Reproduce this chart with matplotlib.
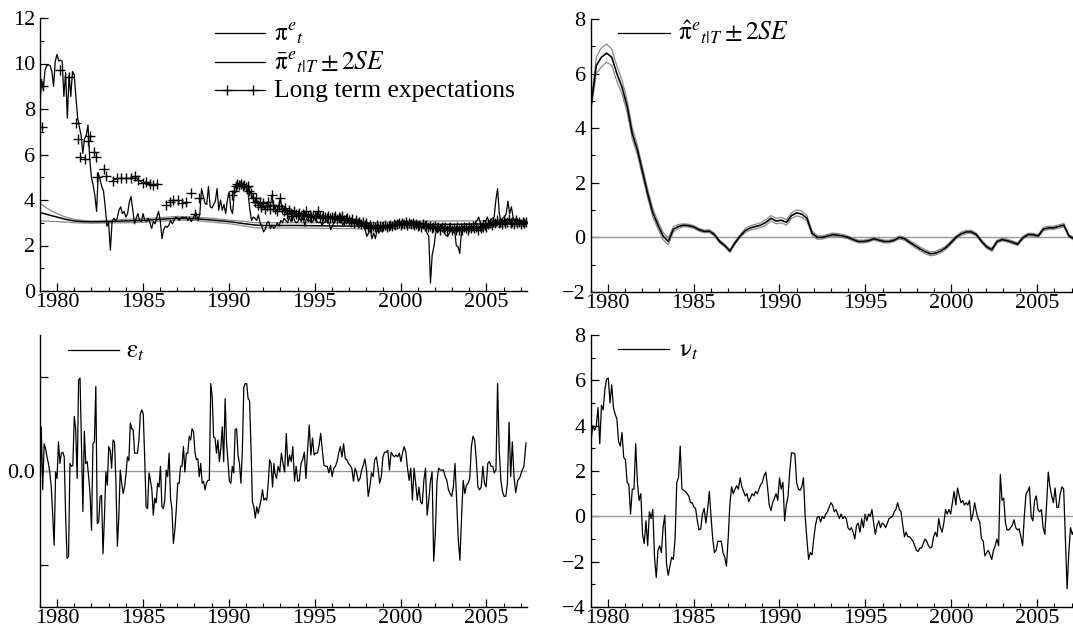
import numpy as np
import matplotlib
matplotlib.use("Agg")
import matplotlib.pyplot as plt
from matplotlib.lines import Line2D
from matplotlib.ticker import MultipleLocator, FixedLocator

plt.rcParams['font.family'] = ['Liberation Serif', 'DejaVu Serif']
plt.rcParams['mathtext.fontset'] = 'stix'

# ---- data ----
# top left: pi^e_t, roughly every 0.1 year from 1979.0 to 2007.35
pi_e = [8.0, 9.3, 8.85, 9.7, 9.9, 9.95, 9.9, 9.65, 9.0, 10.1,
        10.4, 10.1, 10.15, 10.1, 8.55, 9.6, 7.6, 9.5, 8.55, 9.65,
        9.5, 8.5, 7.6, 7.2, 6.85, 6.05, 6.7, 6.85, 7.3, 5.8,
        5.0, 4.65, 4.2, 3.5, 5.2, 4.9, 4.6, 4.4, 3.7, 2.85,
        3.0, 1.8, 3.05, 3.2, 3.1, 3.2, 3.55, 3.7, 3.4, 3.5,
        3.25, 3.4, 3.9, 4.15, 3.6, 2.95, 3.2, 3.4, 3.1, 3.05,
        3.4, 3.1, 3.05, 3.2, 3.0, 2.75, 3.05, 2.95, 3.25, 3.5,
        3.1, 2.3, 2.7, 2.85, 2.8, 2.9, 3.1, 2.95, 3.1, 3.25,
        3.2, 3.1, 3.2, 3.25, 3.2, 3.25, 3.1, 3.25, 3.05, 3.2,
        3.35, 3.4, 3.1, 3.4, 4.5, 4.15, 3.85, 3.8, 4.6, 3.7,
        3.65, 3.8, 3.95, 4.5, 3.55, 4.0, 3.55, 3.8, 3.4, 4.0,
        4.35, 3.6, 3.4, 4.3, 4.35, 4.65, 4.75, 4.8, 4.65, 4.6,
        4.6, 4.3, 3.6, 3.1, 3.25, 3.2, 3.1, 3.35, 3.0, 2.85,
        2.6, 2.7, 3.0, 3.05, 2.75, 2.9, 2.75, 2.85, 3.0, 2.85,
        3.1, 3.0, 3.2, 3.1, 3.0, 3.25, 3.05, 3.35, 3.1, 3.0,
        3.05, 3.2, 3.05, 3.25, 2.85, 3.2, 3.05, 3.1, 3.0, 3.1,
        3.25, 3.05, 3.0, 3.05, 2.9, 3.0, 3.05, 3.1, 3.0, 2.7,
        2.85, 3.05, 3.1, 3.2, 3.05, 3.1, 2.9, 3.05, 3.0, 3.05,
        3.1, 3.0, 3.1, 3.0, 3.05, 3.1, 3.05, 3.0, 2.85, 2.7,
        2.4, 2.55, 2.7, 2.3, 2.55, 2.3, 2.7, 2.55, 2.7, 2.6,
        2.85, 2.7, 2.85, 2.9, 2.85, 3.0, 2.85, 3.0, 3.1, 3.0,
        3.05, 3.1, 3.0, 3.05, 3.0, 3.05, 3.1, 2.9, 3.0, 3.05,
        3.0, 3.05, 2.85, 3.05, 2.7, 2.55, 2.4, 0.35, 1.6, 1.95,
        2.55, 2.75, 2.7, 2.9, 2.85, 2.55, 2.45, 2.4, 2.55, 2.7,
        2.55, 2.7, 2.0, 1.95, 1.65, 2.6, 2.85, 2.7, 2.75, 2.7,
        2.85, 2.75, 2.85, 3.0, 3.1, 3.25, 3.0, 2.85, 3.1, 3.05,
        3.25, 3.05, 3.1, 3.2, 3.25, 4.0, 4.5, 3.4, 3.05, 3.2,
        3.25, 3.4, 3.95, 3.4, 3.7, 3.25, 3.1, 3.2, 3.1, 3.05,
        3.1, 3.0, 3.05, 3.1]
pi_e_start, pi_e_end = 1979.0, 2007.35

# top left: smoothed pi-bar and its +-2SE band
pibar_years = [1979.0, 1979.5, 1980.0, 1980.5, 1981.0, 1981.5, 1982.0, 1983.0,
               1984.0, 1985.0, 1986.0, 1987.0, 1988.0, 1989.0, 1990.0, 1991.0,
               1991.5, 1992.0, 1993.0, 1994.0, 1995.0, 1996.0, 1997.0, 1998.0,
               1999.0, 2000.0, 2001.0, 2002.0, 2003.0, 2004.0, 2005.0, 2006.0, 2007.35]
pibar_mid = [3.45, 3.35, 3.25, 3.15, 3.08, 3.05, 3.04, 3.05, 3.08, 3.1, 3.15,
             3.2, 3.18, 3.12, 3.05, 2.95, 2.9, 2.88, 2.88, 2.88, 2.87, 2.86,
             2.85, 2.85, 2.87, 2.9, 2.92, 2.93, 2.93, 2.94, 2.95, 2.96, 2.97]
pibar_hi = [3.85, 3.6, 3.4, 3.25, 3.15, 3.1, 3.08, 3.1, 3.15, 3.18, 3.22,
            3.28, 3.25, 3.2, 3.12, 3.05, 3.0, 3.0, 3.0, 3.0, 3.0, 3.0,
            3.0, 3.0, 3.02, 3.05, 3.07, 3.08, 3.08, 3.08, 3.08, 3.09, 3.1]
pibar_lo = [3.08, 3.07, 3.05, 3.03, 3.0, 2.99, 2.98, 2.99, 3.0, 3.02, 3.07,
            3.12, 3.1, 3.03, 2.96, 2.85, 2.78, 2.77, 2.77, 2.77, 2.76, 2.75,
            2.74, 2.73, 2.74, 2.76, 2.78, 2.8, 2.8, 2.81, 2.82, 2.83, 2.84]

# top left: long term expectations (survey)
lt_a_years = [1979.1, 1979.2, 1980.2, 1980.7, 1981.1, 1981.2, 1981.35, 1981.65,
              1981.8, 1981.9, 1982.15, 1982.3, 1982.35, 1982.75, 1982.85]
lt_a = [7.2, 9.0, 9.7, 9.4, 7.4, 6.7, 5.9, 5.8, 6.6, 6.8, 6.1, 5.9, 5.0, 5.35, 5.05]
lt_b_years = [1983.25, 1983.5, 1983.75, 1984.0, 1984.3, 1984.55, 1984.7,
              1985.0, 1985.2, 1985.4, 1985.6, 1985.8]
lt_b = [4.85, 4.95, 4.95, 4.95, 4.95, 5.05, 4.9, 4.75, 4.8, 4.7, 4.65, 4.7]
lt_c_years = [1986.35, 1986.55, 1986.75, 1987.05, 1987.25, 1987.5, 1987.8, 1988.05, 1988.25]
lt_c = [3.8, 3.9, 4.0, 4.0, 3.85, 3.9, 4.3, 3.4, 4.1]
# every 0.1 year from 1990.2 to 2007.3
lt_d = [4.2, 4.4, 4.6, 4.7, 4.65, 4.7, 4.6, 4.65,
        4.55, 4.6, 4.4, 4.3, 4.1, 3.9, 4.1, 3.8, 3.9, 3.7,
        3.85, 3.6, 3.75, 3.9, 3.6, 4.2, 3.8, 3.6, 3.5, 3.75,
        4.1, 3.6, 3.5, 3.65, 3.4, 3.55, 3.45, 3.3, 3.5, 3.4,
        3.35, 3.45, 3.3, 3.4, 3.35, 3.5, 3.3, 3.35, 3.25, 3.35,
        3.3, 3.25, 3.5, 3.3, 3.2, 3.3, 3.25, 3.2, 3.3, 3.2,
        3.25, 3.2, 3.3, 3.15, 3.25, 3.2, 3.3, 3.1, 3.15, 3.2,
        3.1, 3.05, 3.15, 3.0, 3.1, 3.0, 3.05, 2.95, 3.05, 2.9,
        3.0, 2.8, 2.9, 2.75, 2.85, 2.8, 2.9, 2.75, 2.85, 2.8,
        2.85, 2.9, 2.8, 2.85, 2.9, 2.85, 2.95, 2.9, 2.95, 3.0,
        2.9, 3.0, 2.95, 3.05, 2.9, 3.0, 2.95, 3.0, 2.9, 2.95,
        2.85, 2.9, 2.8, 2.95, 2.85, 2.9, 2.8, 2.85, 2.75, 2.8,
        2.85, 2.75, 2.8, 2.7, 2.8, 2.75, 2.8, 2.7, 2.75, 2.8,
        2.7, 2.75, 2.7, 2.8, 2.7, 2.75, 2.7, 2.8, 2.75, 2.7,
        2.8, 2.75, 2.85, 2.75, 2.8, 2.7, 2.85, 2.75, 2.8, 2.9,
        2.8, 2.95, 3.0, 2.9, 3.05, 3.0, 3.1, 3.0, 3.05, 2.95,
        3.1, 3.0, 3.05, 3.15, 3.0, 3.05, 2.95, 3.1, 3.0, 3.05,
        2.95, 3.05, 3.0, 3.05]
lt_d_start, lt_d_end = 1990.2, 2007.3

# top right: pi-hat smoothed, every 0.3 year from 1979.04
pihat = [4.85, 6.3, 6.6, 6.75, 6.6, 6.0, 5.5, 4.8, 3.8, 3.2,
         2.4, 1.6, 0.9, 0.45, 0.05, -0.15, 0.3, 0.4, 0.45, 0.43,
         0.38, 0.28, 0.22, 0.23, 0.1, -0.15, -0.3, -0.5, -0.2, 0.05,
         0.25, 0.35, 0.4, 0.45, 0.55, 0.7, 0.6, 0.63, 0.55, 0.8,
         0.9, 0.85, 0.7, 0.15, 0.0, 0.0, 0.05, 0.1, 0.08, 0.05,
         0.0, -0.08, -0.15, -0.15, -0.12, -0.05, -0.1, -0.15, -0.15, -0.1,
         0.0, -0.05, -0.18, -0.3, -0.42, -0.52, -0.6, -0.58, -0.5, -0.38,
         -0.2, 0.0, 0.13, 0.2, 0.2, 0.1, -0.15, -0.35, -0.45, -0.15,
         -0.08, -0.12, -0.18, -0.25, -0.02, 0.1, 0.1, 0.05, 0.3, 0.35,
         0.35, 0.4, 0.45, 0.05, -0.05]
pihat_2se = [0.12, 0.3, 0.35, 0.33, 0.3, 0.28, 0.25, 0.22, 0.2, 0.18,
             0.17, 0.16, 0.15, 0.14, 0.13, 0.12, 0.1, 0.07, 0.05, 0.05,
             0.05, 0.05, 0.05, 0.05, 0.05, 0.05, 0.05, 0.05, 0.05, 0.05,
             0.07, 0.08, 0.08, 0.09, 0.1, 0.1, 0.1, 0.1, 0.1, 0.1,
             0.11, 0.11, 0.1, 0.08, 0.07, 0.06, 0.06, 0.06, 0.06, 0.06,
             0.05, 0.05, 0.05, 0.05, 0.05, 0.05, 0.05, 0.05, 0.05, 0.05,
             0.05, 0.06, 0.06, 0.07, 0.07, 0.07, 0.07, 0.07, 0.07, 0.06,
             0.06, 0.06, 0.06, 0.06, 0.06, 0.05, 0.05, 0.06, 0.06, 0.05,
             0.05, 0.05, 0.05, 0.05, 0.05, 0.05, 0.05, 0.05, 0.06, 0.06,
             0.06, 0.06, 0.06, 0.05, 0.05]
pihat_start, pihat_end = 1979.04, 2007.15

# bottom left: eps_t in three stretches
eps_a = [-0.35, 0.47, -0.2, 0.29, 0.24, 0.15, 0.08, -0.02, -0.17, -0.49, -0.79,
         -0.01, -0.08, 0.31, 0.08, 0.19, 0.2, 0.15, -0.49, -0.93, -0.91,
         0.08, 0.05, 0.06, 0.58, 0.44, -0.08, 0.97, 0.99, 0.26, -0.43,
         0.42, 0.08, 0.1, -0.06, -0.24, -0.63, 0.29, 0.31, 0.9, -0.56,
         -0.54, -0.27, -0.26, -0.88, -0.49, -0.01, -0.15, 0.26, 0.22, 0.03,
         0.33, 0.31, -0.13, -0.8, -0.49, 0.01, -0.13, -0.24, -0.17, -0.03,
         0.15, 0.11, 0.51, 0.45, 0.44, 0.19, 0.19, 0.19, 0.33, 0.61,
         0.65, 0.61, 0.15, -0.38, -0.4, -0.02, -0.1, -0.2, -0.47, -0.29,
         -0.34, -0.13, -0.17, 0.05, -0.38, -0.4, -0.31, 0.01, -0.06, 0.19,
         -0.29, -0.41, -0.77, -0.63, -0.41, -0.13, -0.13, 0.05, 0.05, 0.26,
         -0.01, 0.19, 0.19, 0.37, 0.33, 0.45, 0.42, 0.2, 0.12, 0.13,
         -0.06, 0.08, -0.13, -0.11, -0.2, -0.13, -0.1, -0.1, 0.93, 0.79,
         0.36, 0.35, 0.19, 0.33, 0.1, 0.24, 0.47, 0.1, 0.77, 0.3,
         0.1, -0.11, -0.13, 0.05, -0.02, 0.44, 0.45, 0.17, 0.08, -0.13,
         0.22, 0.89, 0.93, 0.93, 0.77, 0.75, 0.26, -0.33, -0.38, -0.5,
         -0.38, -0.45, -0.38, -0.31, -0.2, -0.31, -0.29, -0.31, -0.13, 0.12,
         0.08, -0.17, 0.08]
eps_b = [-0.02, -0.08, 0.05, -0.01, 0.19, 0.08, -0.01, 0.4, 0.05, 0.17,
         0.1, 0.26, -0.11, 0.05, -0.11, -0.1, 0.08, 0.12, 0.2, -0.08,
         0.22, 0.49, 0.17, 0.35, 0.17, 0.19, 0.19, 0.27, 0.4, 0.22,
         0.06, 0.05, 0.05, -0.02, 0.06, -0.06, 0.03, 0.05, 0.1, 0.19,
         0.26, 0.15, 0.29, 0.13, 0.12, 0.08, 0.06, 0.03, -0.11, 0.03,
         -0.02, -0.11, -0.08, 0.01, 0.06, 0.13, 0.01, -0.27, -0.17, -0.02,
         -0.06, 0.12, 0.15, 0.03, -0.13, -0.06, 0.15, 0.2, 0.2, 0.22,
         0.01, 0.2, 0.17, 0.15, 0.17, 0.15, 0.19, 0.1, 0.2, 0.26,
         0.2, 0.03, -0.1, 0.03, -0.31, 0.03, -0.13, -0.31, -0.17, -0.33,
         -0.35, -0.1, 0.03, -0.47, -0.31, -0.11, -0.01, -0.96, -0.66, -0.11,
         0.03, 0.01, 0.01, 0.01, -0.06, -0.1, -0.2, -0.24, -0.27, -0.17,
         0.08, -0.31, -0.73, -0.95, -0.49, -0.1, -0.24, -0.15, -0.13, -0.08,
         0.26, 0.37, 0.33, 0.12, -0.17, -0.2, -0.17, 0.05, -0.13, -0.17,
         0.08, 0.1, 0.05, 0.05, -0.02, 0.01, 0.93, 0.22, -0.1, -0.22,
         -0.27, -0.27, -0.13, 0.52, -0.06, 0.31, -0.06]
eps_c = [-0.23, -0.1, -0.07, 0.0, 0.05, 0.3]
eps_spans = [(1979.0, 1992.63), (1992.68, 2006.6), (2006.7, 2007.3)]

# bottom right: nu_t, about every 0.1 year from 1979.04
nu = [3.4, 4.0, 3.8, 4.0, 4.8, 3.2, 4.9, 4.7, 5.6, 6.05,
      6.1, 5.0, 5.8, 4.8, 4.5, 4.3, 3.3, 3.1, 3.7, 2.6,
      2.5, 1.5, 1.4, 0.1, 1.2, 1.2, 3.2, 1.5, 0.7, 1.0,
      -0.8, -1.2, -0.2, -1.3, 0.2, -0.1, 0.3, -1.8, -2.7, -1.5,
      -1.3, -1.6, -0.5, 0.05, -2.1, -2.6, -2.2, -1.8, -1.9, -1.0,
      1.5, 1.7, 3.1, 1.2, 1.15, 1.1, 1.0, 0.9, 0.6, 0.6,
      0.4, 0.35, -0.2, -0.6, -0.55, 0.1, 0.35, -0.3, 0.3, 1.1,
      0.0, -1.0, -1.6, -1.5, -1.1, -1.1, -1.1, -1.6, -1.8, -2.2,
      -1.0, 0.5, 1.3, 1.0, 1.2, 1.35, 1.2, 1.7, 1.3, 1.1,
      0.9, 1.0, 0.65, 0.8, 1.0, 0.9, 1.1, 1.0, 1.2, 1.4,
      1.5, 1.8, 1.95, 1.3, 0.5, 0.25, 0.6, 0.8, 1.0, 0.7,
      1.7, 1.2, 1.5, -0.2, 0.5, 0.9, 2.0, 2.8, 2.8, 2.75,
      1.5, 1.2, 1.15, 1.3, 1.7, 0.0, -1.0, -1.9, -1.6, -1.7,
      -1.0, -0.4, -0.05, 0.0, -0.25, 0.0, -0.1, 0.1, 0.2, 0.4,
      0.6, 0.5, 0.2, 0.3, 0.1, -0.1, 0.1, -0.1, 0.0, -0.1,
      -0.5, -0.6, -0.5, -0.7, -1.0, -0.4, -0.3, -0.7, -0.1, -0.5,
      0.1, -0.2, 0.1, 0.0, 0.3, -0.3, -0.8, -0.4, -0.2, -0.5,
      -0.3, -0.35, -0.5, -0.3, -0.1, -0.05, 0.0, 0.2, 0.3, 0.6,
      0.3, 0.2, -0.4, -0.9, -0.7, -0.9, -0.9, -1.0, -1.1, -1.3,
      -1.5, -1.55, -1.4, -1.4, -1.2, -1.0, -1.1, -1.3, -1.4, -1.35,
      -0.9, -0.7, -0.9, -0.1, -0.5, -0.7, -0.3, 0.3, 0.1, 0.3,
      0.1, 0.6, 1.1, 0.5, 1.25, 0.9, 0.6, 0.7, 0.5, 0.6,
      0.5, 0.7, -0.2, 0.1, 0.6, 0.2, -0.1, -0.25, -1.0, -1.1,
      -1.75, -1.6, -1.5, -1.7, -1.9, -1.5, -1.3, -1.0, -1.3, 1.85,
      0.7, 0.8, -0.3, -0.6, -0.6, -0.5, -0.4, -0.15, -0.5, -0.6,
      -0.55, -0.9, -1.3, 0.0, 1.0, 1.1, 1.3, 0.0, -0.2, 0.7,
      0.9, 0.3, 0.2, 0.3, -0.5, -0.8, 0.5, 1.95, 1.3, 0.9,
      0.6, 1.25, 0.4, 0.4, 1.0, 1.3, 1.2, -1.0, -3.2, -1.6,
      -0.5, -0.8, -0.6]
nu_start, nu_end = 1979.04, 2007.14

# ---- figure ----
W, H = 1073, 630
fig = plt.figure(figsize=(W / 100, H / 100), dpi=100)
GRAY = '#8a8a8a'
ZERO = '#9a9a9a'
PX_PER_YEAR = 17.18


def add_axes(l, t, r, b):
    return fig.add_axes([l / W, 1 - b / H, (r - l) / W, (b - t) / H])


def style(ax, xmax, ylim, major=None, minor=None):
    for s in ['top', 'right']:
        ax.spines[s].set_visible(False)
    for s in ['left', 'bottom']:
        ax.spines[s].set_linewidth(1.0)
    ax.set_xlim(1979.0, xmax)
    ax.set_ylim(*ylim)
    ax.xaxis.set_major_locator(MultipleLocator(5))
    ax.xaxis.set_minor_locator(MultipleLocator(1))
    if major is not None:
        ax.yaxis.set_major_locator(MultipleLocator(major))
        ax.yaxis.set_minor_locator(MultipleLocator(minor))
    ax.tick_params(which='both', direction='in', labelsize=16, top=False, right=False)
    ax.tick_params(which='major', length=5.5, width=0.9)
    ax.tick_params(which='minor', length=3.2, width=0.8)
    ax.tick_params(axis='x', pad=1.5)
    ax.tick_params(axis='y', pad=3.5)


def legend_line(x0, x1, y, label, tx, markers=None):
    fy = 1 - y / H
    fig.add_artist(Line2D([x0 / W, x1 / W], [fy, fy], transform=fig.transFigure,
                          color='k', lw=0.9))
    if markers:
        fig.add_artist(Line2D([m / W for m in markers], [fy] * len(markers),
                              transform=fig.transFigure, color='k', lw=0,
                              marker='+', ms=6.5, mew=1.0))
    fig.text(tx / W, 1 - (y + 7) / H, label, fontsize=18.4, va='baseline')


xmax_left = 2007.35
left_l = 39.8
left_r = left_l + (xmax_left - 1979.0) * PX_PER_YEAR
right_l = 590.5
xmax_right = 1979.0 + (W - right_l) / PX_PER_YEAR

ax1 = add_axes(left_l, 18, left_r, 291)
ax2 = add_axes(right_l, 19, W, 292)
ax3 = add_axes(left_l, 335, left_r, 607)
ax4 = add_axes(right_l, 335, W, 607)

MK = dict(marker='+', ms=6.5, mew=1.0, color='k')

# top left
t_pi = np.linspace(pi_e_start, pi_e_end, len(pi_e))
ax1.plot(pibar_years, pibar_hi, color=GRAY, lw=0.9)
ax1.plot(pibar_years, pibar_lo, color=GRAY, lw=0.9)
ax1.plot(pibar_years, pibar_mid, color='k', lw=1.1)
ax1.plot(lt_a_years, lt_a, ls='none', **MK)
ax1.plot(lt_b_years, lt_b, lw=0.8, **MK)
ax1.plot(lt_c_years, lt_c, ls='none', **MK)
ax1.plot(np.linspace(lt_d_start, lt_d_end, len(lt_d)), lt_d, lw=0.8, **MK)
ax1.plot(t_pi, pi_e, color='k', lw=0.9)
style(ax1, xmax_left, (0, 12), 2, 1)

legend_line(215, 265, 33, r'$\mathrm{\pi}^{e}{}_{t}$', 274)
legend_line(215, 265, 62, r'$\bar{\mathrm{\pi}}^{e}{}_{t|T} \pm 2SE$', 274)
legend_line(215, 265, 90, 'Long term expectations', 274, markers=[227, 253])

# top right
t_hat = np.linspace(pihat_start, pihat_end, len(pihat))
hat = np.array(pihat)
se = np.array(pihat_2se)
ax2.axhline(0, color=ZERO, lw=1.0)
ax2.plot(t_hat, hat + se, color=GRAY, lw=0.9)
ax2.plot(t_hat, hat - se, color=GRAY, lw=0.9)
ax2.plot(t_hat, hat, color='k', lw=1.2)
style(ax2, xmax_right, (-2, 8), 2, 1)
legend_line(618, 670, 33, r'$\hat{\mathrm{\pi}}^{e}{}_{t|T} \pm 2SE$', 678)

# bottom left
t_eps = np.concatenate([np.linspace(a, b, len(v)) for (a, b), v in
                        zip(eps_spans, [eps_a, eps_b, eps_c])])
ax3.axhline(0, color=ZERO, lw=1.0)
ax3.plot(t_eps, eps_a + eps_b + eps_c, color='k', lw=0.9)
style(ax3, xmax_left, (-1.447, 1.447))
ax3.yaxis.set_major_locator(FixedLocator([-1, 0, 1]))
ax3.set_yticklabels(['', '0.0', ''])
legend_line(68, 119, 350, r'$\mathrm{\varepsilon}{}_{t}$', 126)

# bottom right
t_nu = np.linspace(nu_start, nu_end, len(nu))
ax4.axhline(0, color=ZERO, lw=1.0)
ax4.plot(t_nu, nu, color='k', lw=0.9)
style(ax4, xmax_right, (-4, 8), 2, 1)
legend_line(618, 669, 349, r'$\mathrm{\nu}{}_{t}$', 679)

for ax in [ax1, ax2, ax4]:
    ax.yaxis.set_major_formatter(plt.FuncFormatter(
        lambda v, p: ('\u2212%d' % -v) if v < 0 else '%d' % v))

fig.savefig('out.png', dpi=100)
